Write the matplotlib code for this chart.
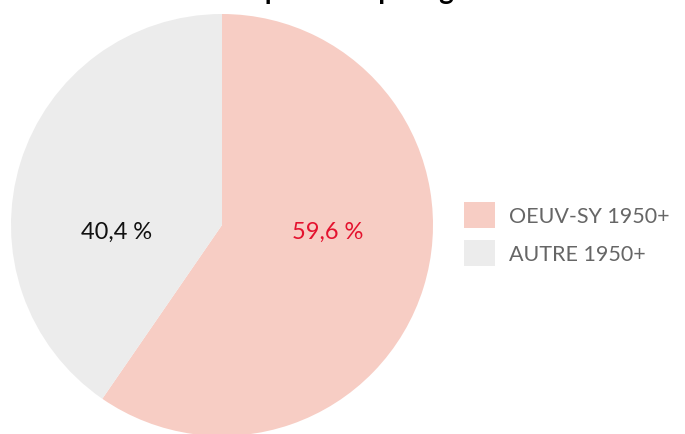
import matplotlib
matplotlib.use('Agg')
import matplotlib.pyplot as plt
from matplotlib.patches import Patch

plt.rcParams['font.family'] = ['Lato', 'DejaVu Sans']

labels = ['OEUV-SY 1950+', 'AUTRE 1950+']
values = [59.6, 40.4]
pct_text = ['59,6\u202f%', '40,4\u202f%']
colors = ['#f7cdc4', '#ececec']
text_colors = ['#e4122e', '#111111']

fig = plt.figure(figsize=(6.85, 4.35), dpi=100)
W, H = 685, 435
cx, cy, r = 222, 226, 211
ax = fig.add_axes([(cx - r) / W, (H - cy - r) / H, 2 * r / W, 2 * r / H])

ax.pie(values, colors=colors, startangle=90, counterclock=False,
       radius=1, wedgeprops=dict(linewidth=0))
ax.set_xlim(-1, 1)
ax.set_ylim(-1, 1)
ax.set_aspect('equal')
ax.axis('off')

# labels: right slice first, left slice second
for txt, col, xpos in zip(pct_text, text_colors, [0.5, -0.5]):
    ax.text(xpos, -0.03, txt, color=col, fontsize=17, ha='center', va='center')

handles = [Patch(facecolor=c, edgecolor='none') for c in colors]
leg = fig.legend(handles, labels, loc='center left', bbox_to_anchor=(464 / W, 1 - 235 / H),
                 frameon=False, fontsize=15.5, handlelength=1.45, handleheight=1.45,
                 handletextpad=0.65, labelspacing=0.6, borderaxespad=0, borderpad=0)
for t in leg.get_texts():
    t.set_color('#666666')

# title sits mostly above the visible area
fig.text(350 / W, 1 + 0.5 / H, 'Répartition par âge', fontsize=20, fontweight='bold',
         ha='center', va='baseline')

fig.savefig('out.png', dpi=100)
